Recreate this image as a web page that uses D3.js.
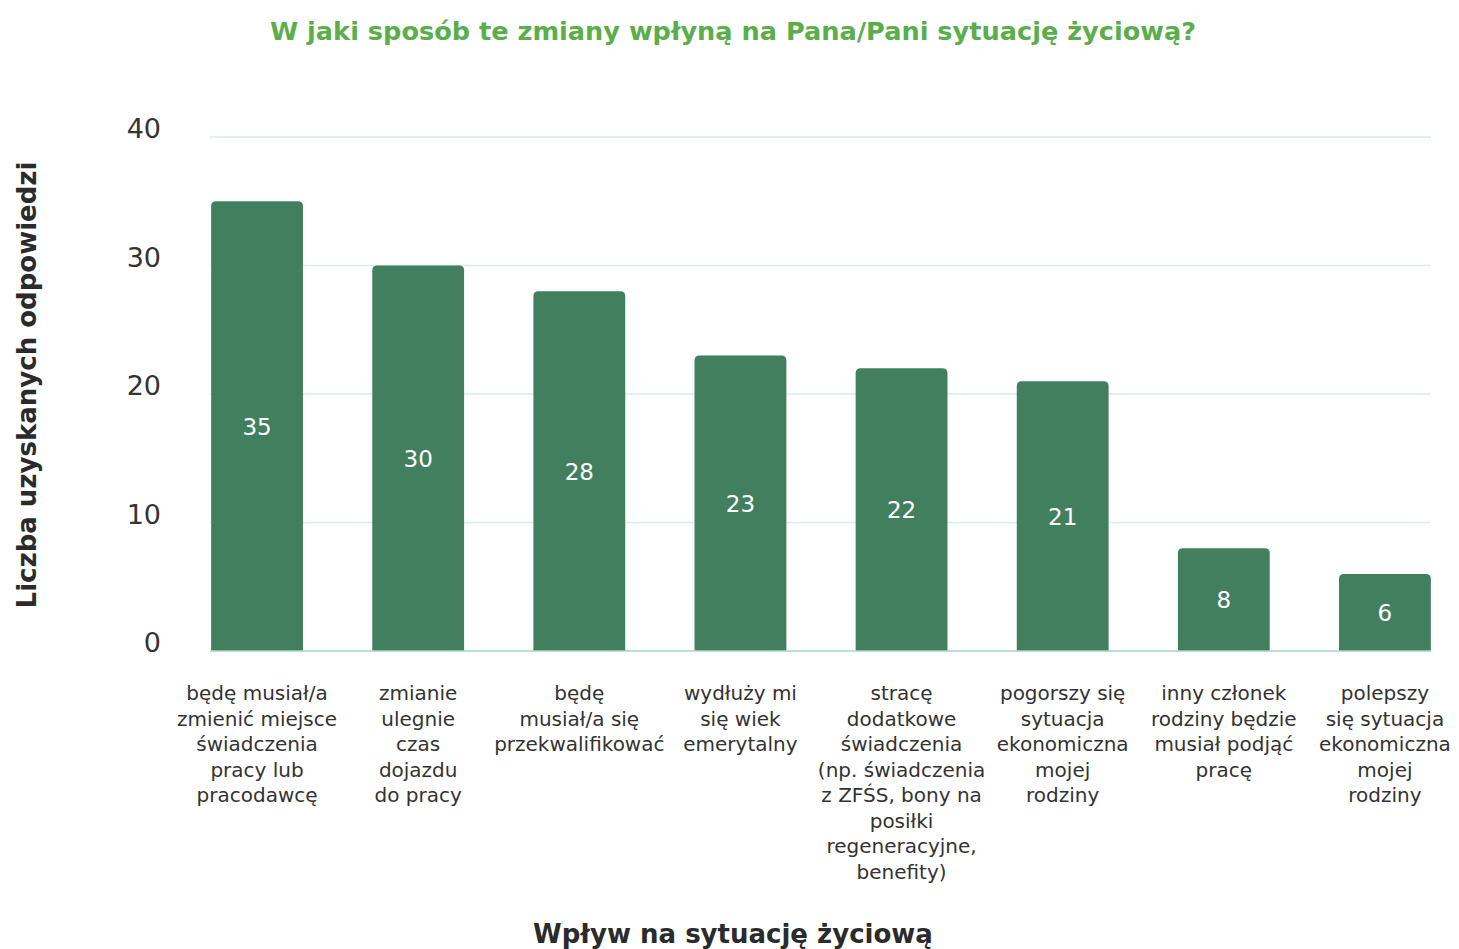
<!DOCTYPE html>
<html>
<head>
<meta charset="utf-8">
<script src="https://cdn.jsdelivr.net/npm/d3@7"></script>
<style>
  html, body { margin: 0; padding: 0; background: #ffffff; }
  svg { display: block; }
  text { font-family: "DejaVu Sans", sans-serif; }
</style>
</head>
<body>
<svg id="chart" width="1459" height="949"></svg>
<script>
// Survey answers: how the changes will affect the respondent's life situation
const categories = [
  "będę musiał/a\nzmienić miejsce\nświadczenia\npracy lub\npracodawcę",
  "zmianie\nulegnie\nczas\ndojazdu\ndo pracy",
  "będę\nmusiał/a się\nprzekwalifikować",
  "wydłuży mi\nsię wiek\nemerytalny",
  "stracę\ndodatkowe\nświadczenia\n(np. świadczenia\nz ZFŚS, bony na\nposiłki\nregeneracyjne,\nbenefity)",
  "pogorszy się\nsytuacja\nekonomiczna\nmojej\nrodziny",
  "inny członek\nrodziny będzie\nmusiał podjąć\npracę",
  "polepszy\nsię sytuacja\nekonomiczna\nmojej\nrodziny"
];
const responses = [35, 30, 28, 23, 22, 21, 8, 6];
const yTicks = [0, 10, 20, 30, 40];

const titleText = "W jaki sposób te zmiany wpłyną na Pana/Pani sytuację życiową?";
const xAxisTitle = "Wpływ na sytuację życiową";
const yAxisTitle = "Liczba uzyskanych odpowiedzi";

const svg = d3.select("#chart");

const plot = { left: 210, right: 1431, top: 137, bottom: 651 };

const x = d3.scaleBand()
  .domain(categories)
  .range([176.5, 1465.5])
  .paddingInner(0.43)
  .paddingOuter(0.215);

const y = d3.scaleLinear()
  .domain([0, 40])
  .range([plot.bottom, plot.top]);

// Horizontal gridlines
svg.append("g")
  .selectAll("line")
  .data(yTicks.filter(d => d !== 0))
  .join("line")
  .attr("x1", plot.left)
  .attr("x2", plot.right)
  .attr("y1", d => y(d))
  .attr("y2", d => y(d))
  .attr("stroke", "#d6eee3")
  .attr("stroke-width", 1.5);

// Y tick labels
svg.append("g")
  .selectAll("text")
  .data(yTicks)
  .join("text")
  .attr("x", 161)
  .attr("y", d => y(d))
  .attr("dy", "0.05em")
  .attr("text-anchor", "end")
  .attr("font-size", 27)
  .attr("fill", "#333333")
  .text(d => d);

// Bars with rounded top corners
const r = 5;
function barPath(d, i) {
  const x0 = x(categories[i]);
  const w = x.bandwidth();
  const yTop = y(d);
  const yBot = y(0);
  return `M${x0},${yBot}V${yTop + r}Q${x0},${yTop} ${x0 + r},${yTop}` +
         `H${x0 + w - r}Q${x0 + w},${yTop} ${x0 + w},${yTop + r}V${yBot}Z`;
}

svg.append("g")
  .selectAll("path")
  .data(responses)
  .join("path")
  .attr("d", barPath)
  .attr("fill", "#417f5f");

// Baseline
svg.append("line")
  .attr("x1", plot.left)
  .attr("x2", plot.right)
  .attr("y1", y(0))
  .attr("y2", y(0))
  .attr("stroke", "#a9d7bf")
  .attr("stroke-width", 1.5);

// Value labels centred in each bar
svg.append("g")
  .selectAll("text")
  .data(responses)
  .join("text")
  .attr("x", (d, i) => x(categories[i]) + x.bandwidth() / 2)
  .attr("y", d => (y(d) + y(0)) / 2)
  .attr("dy", "0.38em")
  .attr("text-anchor", "middle")
  .attr("font-size", 23)
  .attr("fill", "#ffffff")
  .text(d => d);

// Category labels
const catG = svg.append("g")
  .selectAll("text")
  .data(categories)
  .join("text")
  .attr("text-anchor", "middle")
  .attr("font-size", 20)
  .attr("fill", "#333333");

catG.each(function(d) {
  const cx = x(d) + x.bandwidth() / 2;
  d3.select(this)
    .selectAll("tspan")
    .data(d.split("\n"))
    .join("tspan")
    .attr("x", cx)
    .attr("y", (l, j) => 700 + j * 25.5)
    .text(l => l);
});

// Title
svg.append("text")
  .attr("x", 733)
  .attr("y", 40)
  .attr("text-anchor", "middle")
  .attr("font-size", 25.6)
  .attr("font-weight", "bold")
  .attr("fill", "#5aae4b")
  .text(titleText);

// X axis title
svg.append("text")
  .attr("x", 733)
  .attr("y", 943)
  .attr("text-anchor", "middle")
  .attr("font-size", 26)
  .attr("font-weight", "bold")
  .attr("fill", "#2b2b2b")
  .text(xAxisTitle);

// Y axis title
svg.append("text")
  .attr("transform", `translate(36,385) rotate(-90)`)
  .attr("text-anchor", "middle")
  .attr("font-size", 26)
  .attr("font-weight", "bold")
  .attr("fill", "#2b2b2b")
  .text(yAxisTitle);
</script>
</body>
</html>
